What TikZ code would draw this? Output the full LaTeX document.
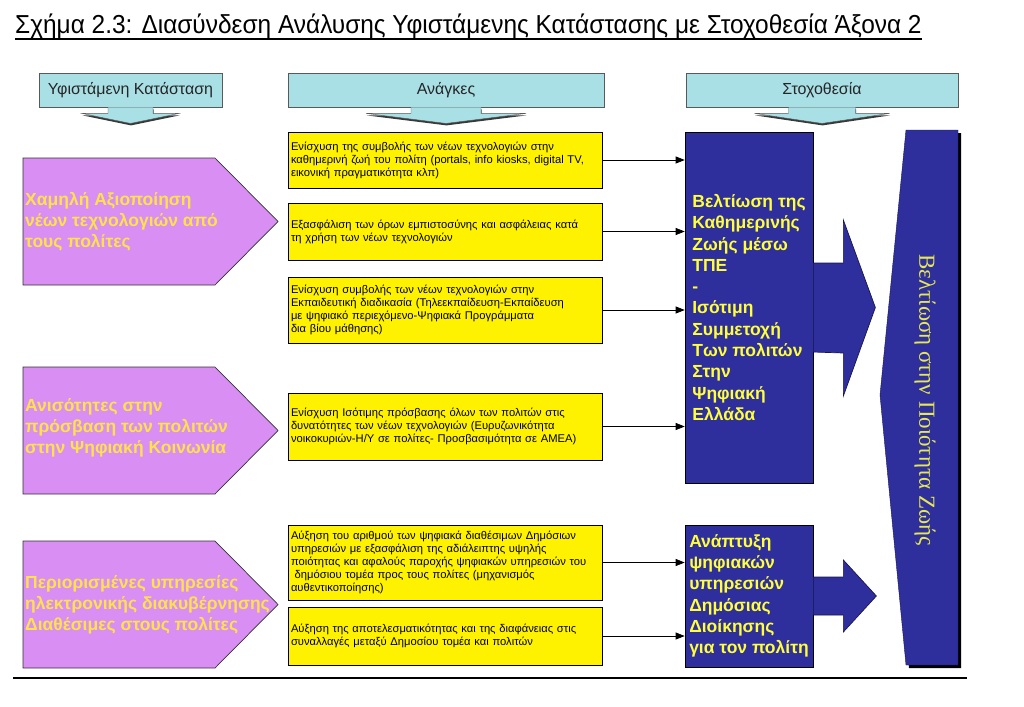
\documentclass[tikz,border=0pt]{standalone}
\usepackage{fontspec}
\setmainfont{Liberation Sans}
\newfontfamily\titlefont[FakeStretch=0.94]{Liberation Sans}
\newfontfamily\timesfont{Liberation Serif}
\usetikzlibrary{arrows.meta}
\definecolor{hdrcyan}{HTML}{A8E0E6}
\definecolor{lila}{HTML}{D88EF2}
\definecolor{lilatext}{HTML}{FFE24A}
\definecolor{navy}{HTML}{2E2E9C}
\definecolor{navytext}{HTML}{FFFF3A}
\definecolor{zoitext}{HTML}{E6E852}
\tikzset{
  hdr/.style={draw=gray!70!black, line width=0.8pt, fill=hdrcyan, minimum height=34pt, inner sep=0pt,
    font=\fontsize{16}{18}\selectfont, text=black!85},
  need/.style={draw=black, line width=0.7pt, fill=yellow, minimum width=314pt, text width=308pt, inner xsep=3pt,
    align=left, font=\fontsize{11.2}{13}\selectfont},
  issue/.style={draw=black!80, line width=0.7pt, fill=lila},
  issuetext/.style={anchor=west, inner sep=0pt, align=left, text=lilatext,
    font=\bfseries\fontsize{17.5}{21.3}\selectfont},
  goal/.style={draw=black, line width=0.7pt, fill=navy, minimum width=128pt, align=left, text=navytext,
    font=\bfseries\fontsize{17.5}{21.3}\selectfont},
  link/.style={->, line width=0.7pt},
  blockarrow/.style={fill=navy, draw=navy!50!black, line width=0.7pt}
}
\begin{document}
\begin{tikzpicture}[x=1pt,y=1pt,>={Triangle[length=9pt,width=7pt]}]
  \useasboundingbox[fill=white] (0,0) rectangle (1024,-706);
  % title
  \node[anchor=base west, inner sep=0pt, font=\titlefont\fontsize{26}{30}\selectfont] (title) at (15,-34)
    {Σχήμα 2.3: Διασύνδεση Ανάλυσης Υφιστάμενης Κατάστασης με Στοχοθεσία Άξονα 2};
  \draw[line width=1.4pt] ([yshift=-5pt]title.base west) -- ([yshift=-5pt]title.base east);
  % headers
  \node[hdr, minimum width=183pt] (h1) at (130.5,-90) {Υφιστάμενη Κατάσταση};
  \node[hdr, minimum width=316pt] (h2) at (446,-90) {Ανάγκες};
  \node[hdr, minimum width=272pt] (h3) at (822,-90) {Στοχοθεσία};
  \foreach \h/\s/\w in {h1/22.5/48.5, h2/35/80, h3/33.5/67.5} {
    \fill[gray!45!black, transform canvas={shift={(0.5pt,-2pt)}}] ([xshift=-\s]\h.south) -- ++(0,-6)
      -- ++(\s-\w,0) -- ([yshift=-16]\h.south) -- ([xshift=\w,yshift=-6]\h.south) -- ++(\s-\w,0) -- ++(0,6) -- cycle;
    \draw[fill=hdrcyan, draw=gray!70!black] ([xshift=-\s]\h.south) -- ++(0,-6)
      -- ++(\s-\w,0) -- ([yshift=-16]\h.south) -- ([xshift=\w,yshift=-6]\h.south) -- ++(\s-\w,0) -- ++(0,6);
  }
  % current situation
  \foreach \c in {221.5, 430.5, 604.5}
    \draw[issue] (23,-\c+63.5) -- (215,-\c+63.5) -- (278,-\c) -- (215,-\c-63.5) -- (23,-\c-63.5) -- cycle;
  \node[issuetext] (p1) at (25,-221.5) {Χαμηλή Αξιοποίηση\\νέων τεχνολογιών από\\τους πολίτες};
  \node[issuetext] (p2) at (25,-428) {Ανισότητες στην\\πρόσβαση των πολιτών\\στην Ψηφιακή Κοινωνία};
  \node[issuetext] (p3) at (25,-605) {Περιορισμένες υπηρεσίες\\ηλεκτρονικής διακυβέρνησης\\Διαθέσιμες στους πολίτες};
  % needs
  \node[need, minimum height=56pt] (y1) at (445,-160)
    {Ενίσχυση της συμβολής των νέων τεχνολογιών στην\\καθημερινή ζωή του πολίτη (portals, info kiosks, digital TV,\\εικονική πραγματικότητα κλπ)};
  \node[need, minimum height=57pt] (y2) at (445,-231.5)
    {Εξασφάλιση των όρων εμπιστοσύνης και ασφάλειας κατά\\τη χρήση των νέων τεχνολογιών};
  \node[need, minimum height=66pt] (y3) at (445,-310)
    {Ενίσχυση συμβολής των νέων τεχνολογιών στην\\Εκπαιδευτική διαδικασία (Τηλεεκπαίδευση-Εκπαίδευση\\με ψηφιακό περιεχόμενο-Ψηφιακά Προγράμματα\\δια βίου μάθησης)};
  \node[need, minimum height=67pt] (y4) at (445,-426.5)
    {Ενίσχυση Ισότιμης πρόσβασης όλων των πολιτών στις\\δυνατότητες των νέων τεχνολογιών (Ευρυζωνικότητα\\νοικοκυριών-Η/Υ σε πολίτες- Προσβασιμότητα σε ΑΜΕΑ)};
  \node[need, minimum height=75pt] (y5) at (445,-562.5)
    {Αύξηση του αριθμού των ψηφιακά διαθέσιμων Δημόσιων\\υπηρεσιών με εξασφάλιση της αδιάλειπτης υψηλής\\ποιότητας και αφαλούς παροχής ψηφιακών υπηρεσιών του\\\ δημόσιου τομέα προς τους πολίτες (μηχανισμός\\αυθεντικοποίησης)};
  \node[need, minimum height=58pt] (y6) at (445,-636)
    {Αύξηση της αποτελεσματικότητας και της διαφάνειας στις\\συναλλαγές μεταξύ Δημοσίου τομέα και πολιτών};
  % goals
  \node[goal, minimum height=351pt] (g1) at (749,-307.5)
    {Βελτίωση της\\Καθημερινής\\Ζωής μέσω\\ΤΠΕ\\-\\Ισότιμη\\Συμμετοχή\\Των πολιτών\\Στην\\Ψηφιακή\\Ελλάδα};
  \node[goal, minimum height=142pt] (g2) at (749,-596)
    {Ανάπτυξη\\ψηφιακών\\υπηρεσιών\\Δημόσιας\\Διοίκησης\\για τον πολίτη};
  \foreach \y/\g in {y1/g1, y2/g1, y3/g1, y4/g1, y5/g2, y6/g2}
    \draw[link] (\y.east) -- (\y.east -| \g.west);
  % block arrows
  \draw[blockarrow] ([yshift=44.5]g1.east) -- ++(30,0) -- ++(0,43) -- ([xshift=62]g1.east)
    -- ++(-32,-88.5) -- ++(0,43) -- ([yshift=-44.5]g1.east);
  \draw[blockarrow] ([yshift=19]g2.east) -- ++(30,0) -- ++(0,17) -- ([xshift=63]g2.east)
    -- ++(-33,-36) -- ++(0,17) -- ([yshift=-19]g2.east);
  % quality of life
  \fill[black] (909,-133) -- (961,-133) -- (961,-668) -- (909,-668) -- (883,-398) -- cycle;
  \draw[fill=navy, draw=navy!50!black] (906,-130) -- (958,-130) -- (958,-665) -- (906,-665) -- (880,-395) -- cycle;
  \node[rotate=-90, font=\timesfont\fontsize{23}{26}\selectfont, text=zoitext] (zoi) at (925,-400)
    {Βελτίωση στην Ποιότητα Ζωής};
  % rule
  \draw[line width=1.6pt] (13,-678) -- (967,-678);
\end{tikzpicture}
\end{document}
